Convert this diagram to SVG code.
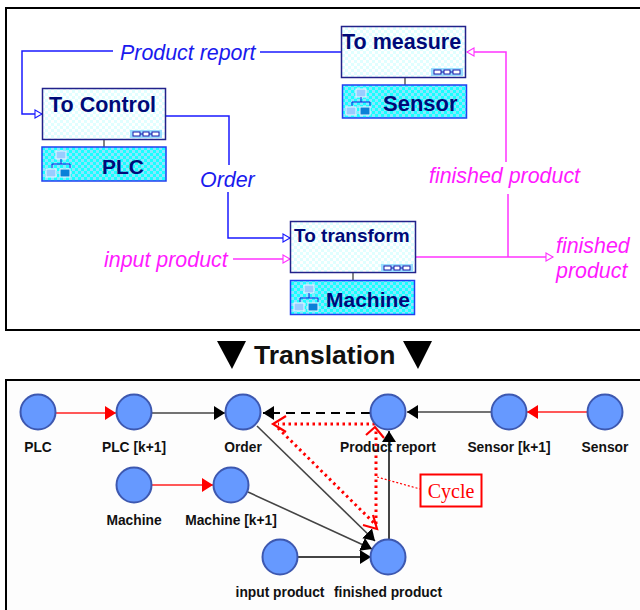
<svg xmlns="http://www.w3.org/2000/svg" width="640" height="610" viewBox="0 0 640 610">
<style>
.b{fill:none;stroke:#1a1aff;stroke-width:1.5}
.m{fill:none;stroke:#ff33ff;stroke-width:1.5}
.k{fill:none;stroke:#444;stroke-width:1.6}
.lt{font-family:"Liberation Sans",Arial,sans-serif;font-style:italic;font-size:21.4px}
.bl{fill:#1a1aee}
.mg{fill:#ff1aff}
.tt{font-family:"Liberation Sans",Arial,sans-serif;font-weight:bold;fill:#000a78}
.nl{font-family:"Liberation Sans",Arial,sans-serif;font-weight:bold;font-size:13.8px;fill:#111;text-anchor:middle}
.box{fill:url(#chk);stroke:#22228a;stroke-width:1.5}
.sub{fill:url(#chk2);stroke:#2040f0;stroke-width:1.5}
.n{fill:#6699ff;stroke:#3d58b0;stroke-width:2}
.rd{fill:none;stroke:#ff0000;stroke-width:3;stroke-dasharray:2.5 3.5}
.ra{fill:none;stroke:#ff0000;stroke-width:2.2}
</style>
<defs>
<pattern id="chk" width="6" height="6" patternUnits="userSpaceOnUse"><rect width="6" height="6" fill="#fff"/><rect width="3" height="3" fill="#e0ffff"/><rect x="3" y="3" width="3" height="3" fill="#e0ffff"/></pattern>
<pattern id="chk2" width="6" height="6" patternUnits="userSpaceOnUse"><rect width="6" height="6" fill="#19ffff"/><rect width="3" height="3" fill="#88e8ff"/><rect x="3" y="3" width="3" height="3" fill="#88e8ff"/></pattern>
<marker id="ob" markerWidth="10" markerHeight="10" refX="8" refY="5" orient="auto" markerUnits="userSpaceOnUse"><path d="M1 1L8 5L1 9Z" fill="#fff" stroke="#1a1aff" stroke-width="1.1"/></marker>
<marker id="om" markerWidth="10" markerHeight="10" refX="8" refY="5" orient="auto" markerUnits="userSpaceOnUse"><path d="M1 1L8 5L1 9Z" fill="#fff" stroke="#ff33ff" stroke-width="1.1"/></marker>
<marker id="fr" markerWidth="12" markerHeight="14" refX="11" refY="7" orient="auto" markerUnits="userSpaceOnUse"><path d="M0 0L11 7L0 14Z" fill="#ff0000"/></marker>
<marker id="fk" markerWidth="12" markerHeight="14" refX="11" refY="7" orient="auto" markerUnits="userSpaceOnUse"><path d="M0 0L11 7L0 14Z" fill="#000"/></marker>
<g id="icon">
<rect x="10" y="0" width="10" height="8" fill="#99ccff" stroke="#e8f8ff"/>
<path d="M15 8V13M6 17V13H24V17" fill="none" stroke="#1a1add" stroke-width="1"/>
<rect x="0" y="18" width="10" height="8" fill="#99ccff" stroke="#e8f8ff"/>
<rect x="14" y="18" width="10" height="8" fill="#0a80d8" stroke="#e8f8ff"/>
</g>
<g id="chain">
<rect x="0" y="0" width="32" height="8" fill="#99ddff"/>
<path d="M3 4H29" stroke="#1a1aaa" stroke-width="1"/>
<rect x="3" y="2" width="7" height="4" fill="#fff" stroke="#1a1aaa" stroke-width="1"/>
<rect x="13" y="2" width="6" height="4" fill="#fff" stroke="#1a1aaa" stroke-width="1"/>
<rect x="22" y="2" width="7" height="4" fill="#fff" stroke="#1a1aaa" stroke-width="1"/>
</g>
</defs>
<rect width="640" height="610" fill="#fff"/>
<path d="M642 8H6V330H642" fill="none" stroke="#000" stroke-width="2"/>
<path d="M642 380H6V612H642" fill="#fdfdfd" stroke="#000" stroke-width="2"/>

<g id="connectors-top">
<path class="b" d="M341 52H260"/>
<path class="b" d="M113 51H22V114H42" marker-end="url(#ob)"/>
<path class="b" d="M165 116H229V165"/>
<path class="b" d="M228 192V238H290" marker-end="url(#ob)"/>
<path class="m" d="M233 259H290" marker-end="url(#om)"/>
<path class="m" d="M416 257H553" marker-end="url(#om)"/>
<path class="m" d="M508 257V194"/>
<path class="m" d="M506 162V52H467" marker-end="url(#om)"/>
<path d="M104 139V147M405 77V85M353 272V280" stroke="#333" stroke-width="1.2"/>
</g>

<g id="to-control"><rect class="box" x="42.5" y="88.5" width="123" height="51"/><text class="tt" x="49" y="112" font-size="21.5px">To Control</text><use href="#chain" x="130" y="130"/></g>
<g id="plc"><rect class="sub" x="42" y="147" width="124" height="34"/><use href="#icon" x="46" y="151"/><text class="tt" x="102" y="174" font-size="21px">PLC</text></g>
<g id="to-measure"><rect class="box" x="341.5" y="26.5" width="124" height="51"/><text class="tt" x="342" y="49" font-size="21.5px">To measure</text><use href="#chain" x="431" y="68"/></g>
<g id="sensor"><rect class="sub" x="342.5" y="85" width="124" height="33"/><use href="#icon" x="346" y="89"/><text class="tt" x="383" y="111" font-size="22px">Sensor</text></g>
<g id="to-transform"><rect class="box" x="290.5" y="221.5" width="125" height="51"/><text class="tt" x="294" y="242" font-size="19px">To transform</text><use href="#chain" x="381" y="264"/></g>
<g id="machine"><rect class="sub" x="290.5" y="280.5" width="124" height="34"/><use href="#icon" x="294" y="285"/><text class="tt" x="326" y="307" font-size="21px">Machine</text></g>

<text class="lt bl" x="120" y="60">Product report</text>
<text class="lt bl" x="200" y="187">Order</text>
<text class="lt mg" x="429" y="183">finished product</text>
<text class="lt mg" x="104" y="267">input product</text>
<text class="lt mg" x="556" y="253">finished</text>
<text class="lt mg" x="556" y="278">product</text>

<g id="translation">
<polygon points="217,341 246,341 232,369" fill="#000"/>
<text x="254" y="364" font-family="'Liberation Sans',Arial,sans-serif" font-weight="bold" font-size="26.5px" fill="#111">Translation</text>
<polygon points="403,341 432,341 418,369" fill="#000"/>
</g>

<g id="connectors-bottom">
<path d="M56 413H116" stroke="#ff2020" stroke-width="1.5" marker-end="url(#fr)"/>
<path d="M152 413H225" class="k" marker-end="url(#fk)"/>
<path d="M152 485H213" stroke="#ff2020" stroke-width="1.5" marker-end="url(#fr)"/>
<path d="M370 413H263" fill="none" stroke="#000" stroke-width="1.8" stroke-dasharray="9 6" marker-end="url(#fk)"/>
<path d="M491 412H407" class="k" marker-end="url(#fk)"/>
<path d="M591 412H527" stroke="#ff2020" stroke-width="1.5" marker-end="url(#fr)"/>
<path d="M389 540V431" fill="none" stroke="#444" stroke-width="2" marker-end="url(#fk)"/>
<path d="M257 426L375 541" class="k" marker-end="url(#fk)"/>
<path d="M248 492L372 549" class="k" marker-end="url(#fk)"/>
<path d="M297 557H371" fill="none" stroke="#444" stroke-width="2" marker-end="url(#fk)"/>
<path d="M375 424H278" class="rd"/>
<path d="M278 428L376 525" class="rd"/>
<path d="M376 524V430" class="rd"/>
<path d="M286 416L273 424L286 432" class="ra"/>
<path d="M366 435L375 427L384 438" class="ra"/>
<path d="M363 525L377 529L373 515" class="ra"/>
<path d="M377 477L420 489" fill="none" stroke="#ff0000" stroke-width="1.2" stroke-dasharray="2 2"/>
</g>

<g id="n-plc"><circle class="n" cx="38" cy="412" r="17.5"/><text class="nl" x="38" y="452">PLC</text></g>
<g id="n-plc-k1"><circle class="n" cx="134" cy="412" r="17.5"/><text class="nl" x="134" y="452">PLC [k+1]</text></g>
<g id="n-order"><circle class="n" cx="243" cy="412" r="17.5"/><text class="nl" x="243" y="452">Order</text></g>
<g id="n-machine"><circle class="n" cx="134" cy="485" r="17.5"/><text class="nl" x="134" y="525">Machine</text></g>
<g id="n-machine-k1"><circle class="n" cx="231" cy="485" r="17.5"/><text class="nl" x="231" y="525">Machine [k+1]</text></g>
<g id="n-input"><circle class="n" cx="280" cy="557" r="17.5"/><text class="nl" x="280" y="597">input product</text></g>
<g id="n-finished"><circle class="n" cx="388" cy="557" r="17.5"/><text class="nl" x="388" y="597">finished product</text></g>
<g id="n-report"><circle class="n" cx="388" cy="412" r="17.5"/><text class="nl" x="388" y="452">Product report</text></g>
<g id="n-sensor-k1"><circle class="n" cx="509" cy="412" r="17.5"/><text class="nl" x="509" y="452">Sensor [k+1]</text></g>
<g id="n-sensor"><circle class="n" cx="605" cy="412" r="17.5"/><text class="nl" x="605" y="452">Sensor</text></g>
<g id="cycle"><rect x="420.5" y="474.5" width="61" height="32" fill="#fff" stroke="#ff0000" stroke-width="2"/><text x="451" y="498" font-family="'Liberation Serif','Times New Roman',serif" font-size="20px" fill="#ff0000" text-anchor="middle">Cycle</text></g>
</svg>
